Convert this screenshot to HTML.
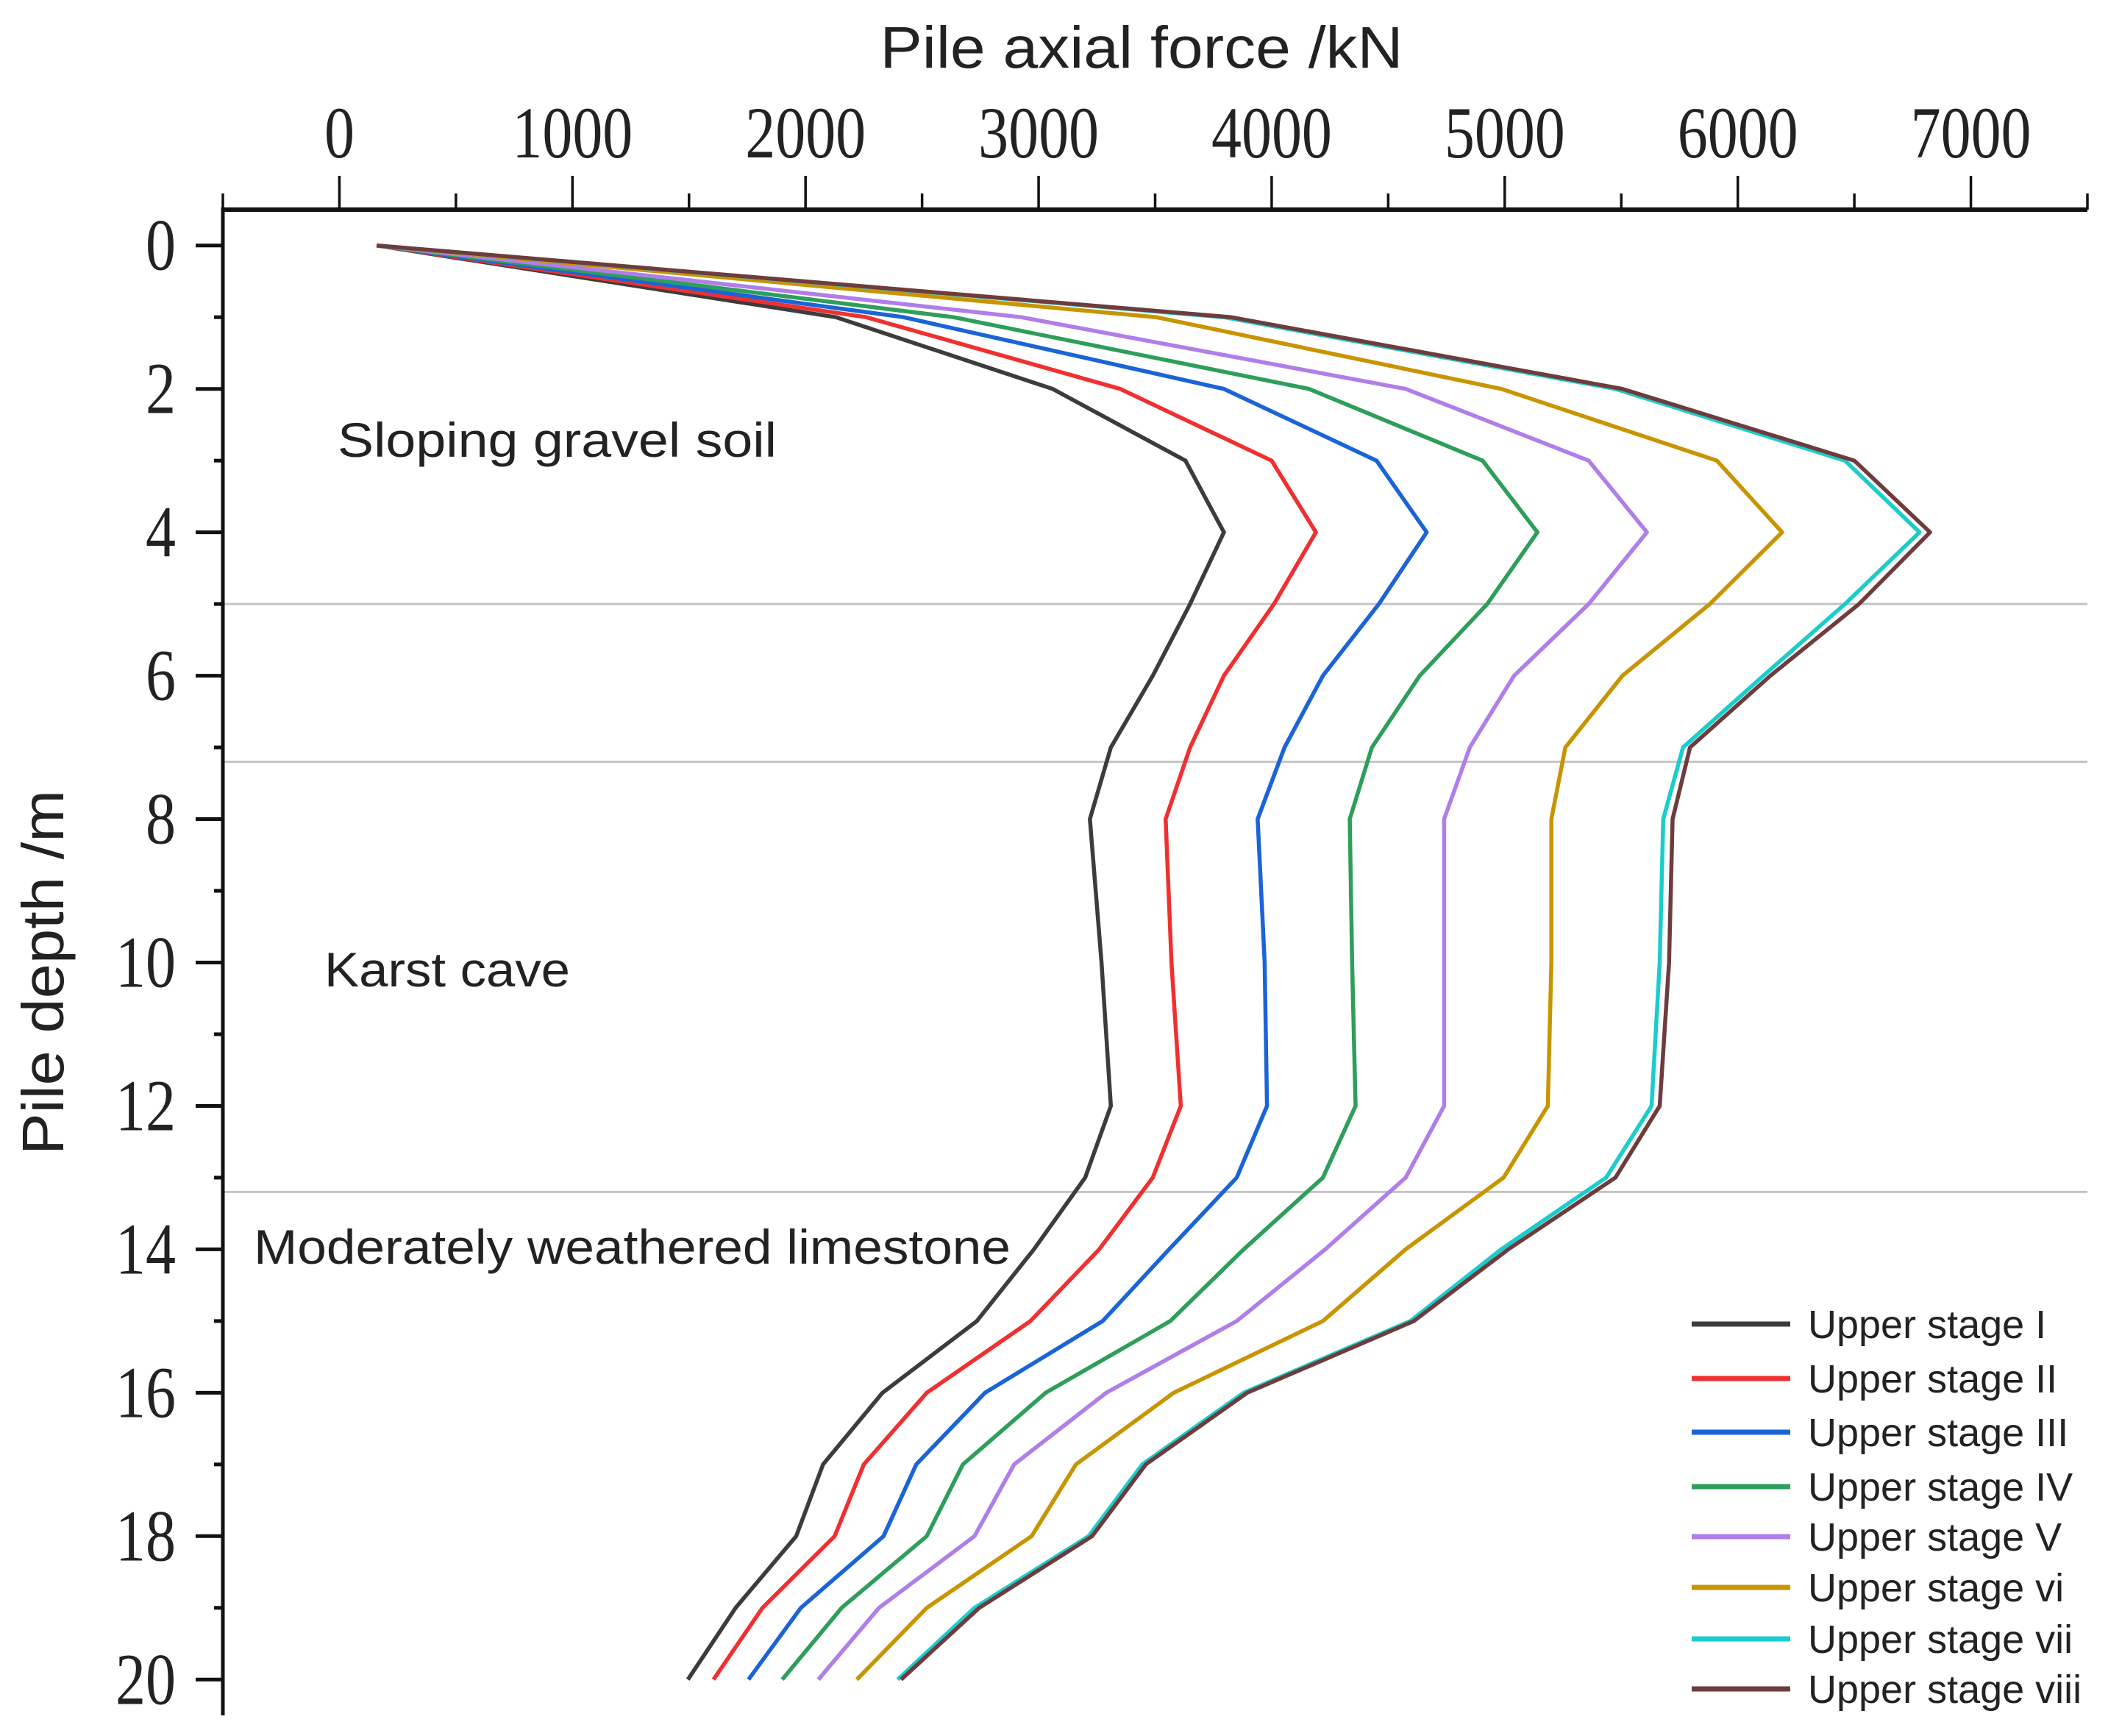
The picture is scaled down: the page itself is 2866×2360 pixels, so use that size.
<!DOCTYPE html>
<html><head><meta charset="utf-8"><style>
html,body{margin:0;padding:0;background:#fff}
svg{display:block}
text{font-family:"Liberation Sans",sans-serif;fill:#222}
.tick{font-family:"Liberation Serif",serif;fill:#222}
</style></head><body>
<svg id="chart" width="2866" height="2360" viewBox="0 0 2866 2360" xmlns="http://www.w3.org/2000/svg"></svg>
<script>
const depths = [0,1,2,3,4,5,6,7,8,10,12,13,14,15,16,17,18,19,20];
const s1 = [160,2130,3060,3630,3795,3650,3490,3310,3220,3270,3310,3200,2980,2735,2330,2075,1960,1700,1495];
const s2 = [160,2260,3350,4000,4190,4010,3795,3650,3545,3570,3610,3490,3260,2965,2520,2250,2125,1815,1605];
const s3 = [160,2420,3795,4450,4665,4460,4220,4055,3940,3970,3980,3850,3560,3275,2770,2475,2335,1980,1755];
const s4 = [160,2635,4160,4905,5140,4925,4635,4430,4335,4345,4360,4220,3880,3565,3030,2675,2520,2155,1900];
const s5 = [160,2925,4575,5360,5610,5360,5040,4850,4740,4740,4740,4575,4230,3850,3290,2895,2725,2315,2055];
const s6 = [160,3505,4985,5910,6190,5880,5505,5260,5200,5200,5185,4995,4575,4220,3580,3160,2970,2520,2220];
const s7 = [160,3795,5475,6460,6780,6460,6110,5765,5680,5665,5630,5435,4985,4595,3880,3445,3215,2725,2395];
const s8 = [160,3825,5505,6500,6825,6520,6140,5795,5720,5705,5665,5475,5015,4610,3895,3460,3230,2745,2410];
const seriesNames = ["Upper stage I","Upper stage II","Upper stage III","Upper stage IV","Upper stage V","Upper stage vi","Upper stage vii","Upper stage viii"];
const xTicks = [0,1000,2000,3000,4000,5000,6000,7000];
const yTicks = [0,2,4,6,8,10,12,14,16,18,20];
const layerBounds = [5,7.2,13.2];

const colors = ["#3c3c3c","#f03030","#1a64d8","#2e9e5a","#b07ee8","#c89400","#1ccccc","#6e3c3c"];
const allSeries = [s1,s2,s3,s4,s5,s6,s7,s8];
const NS = "http://www.w3.org/2000/svg";
const svg = document.getElementById('chart');
const X0=303, X1=2838, Y0=285, Y1=2332;
const xMin=-500, xMax=7500, yMin=-0.5, yMax=20.5;
function xs(v){return X0+(v-xMin)/(xMax-xMin)*(X1-X0);}
function ys(v){return Y0+(v-yMin)/(yMax-yMin)*(Y1-Y0);}
function mk(tag, attrs, parent){const e=document.createElementNS(NS,tag);for(const k in attrs)e.setAttribute(k,attrs[k]);(parent||svg).appendChild(e);return e;}

// layer boundaries
layerBounds.forEach((d,i)=>{
  const l=mk('line',{x1:X0,x2:X1,y1:ys(d),y2:ys(d),stroke:'#c4c4c4','stroke-width':3});
  
  
});

// axes
const xa=mk('line',{x1:X0,x2:X1,y1:Y0,y2:Y0,stroke:'#111','stroke-width':6});


const ya=mk('line',{x1:X0,x2:X0,y1:Y0-3,y2:Y1,stroke:'#111','stroke-width':5});



// x ticks
for(let v=xMin; v<=xMax; v+=500){
  const major = v%1000===0;
  const t=mk('line',{x1:xs(v),x2:xs(v),y1:Y0,y2:Y0-(major?46:22),stroke:'#111','stroke-width':3.5});
  
  
}
xTicks.forEach(v=>{
  const t=mk('text',{x:0,y:0,'text-anchor':'middle','font-size':82,class:'tick',transform:`translate(${xs(v)},214) scale(1,1.22)`});
  t.textContent=v;
  
  
});
// y ticks
for(let d=0; d<=20; d++){
  const major = d%2===0;
  const t=mk('line',{x1:X0,x2:X0-(major?37:12),y1:ys(d),y2:ys(d),stroke:'#111','stroke-width':5});
  
  
}
yTicks.forEach(d=>{
  const t=mk('text',{x:0,y:0,'text-anchor':'end','font-size':82,class:'tick',transform:`translate(239,${ys(d)+33}) scale(1,1.22)`});
  t.textContent=d;
  
  
});

// axis titles
const xt=mk('text',{x:1552,y:92,'text-anchor':'middle','font-size':80,textLength:711,lengthAdjust:'spacingAndGlyphs'});
xt.textContent='Pile axial force /kN';


const yt=mk('text',{x:0,y:0,'text-anchor':'middle','font-size':80,textLength:496,lengthAdjust:'spacingAndGlyphs',transform:'translate(86,1322) rotate(-90)'});
yt.textContent='Pile depth /m';



// annotations
[['Sloping gravel soil',459,621,597],['Karst cave',441,1341,334],['Moderately weathered limestone',345,1718,1029]].forEach(a=>{
  const t=mk('text',{x:a[1],y:a[2],'font-size':66,textLength:a[3],lengthAdjust:'spacingAndGlyphs'});
  t.textContent=a[0];
  
  
});

// series
allSeries.forEach((s,i)=>{
  const pts=s.map((v,j)=>xs(v).toFixed(1)+','+ys(depths[j]).toFixed(1)).join(' ');
  const p=mk('polyline',{points:pts,fill:'none',stroke:colors[i],'stroke-width':5.5,'stroke-linejoin':'round'});
  
  
});

// legend
const lg=mk('g',{});


const legY=[1800,1874,1947,2021,2089,2158,2228,2296];
seriesNames.forEach((n,i)=>{
  const g=mk('g',{},lg);
  
  
  mk('line',{x1:2300,x2:2434,y1:legY[i],y2:legY[i],stroke:colors[i],'stroke-width':7},g);
  const t=mk('text',{x:2458,y:legY[i]+19,'font-size':54},g);
  t.textContent=n;
});
</script>
</body></html>
